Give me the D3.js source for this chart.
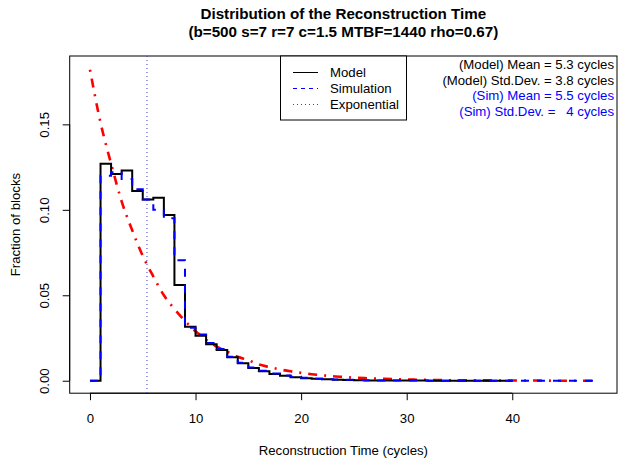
<!DOCTYPE html>
<html>
<head>
<meta charset="utf-8">
<script src="https://cdn.jsdelivr.net/npm/d3@7"></script>
<style>
  body { margin: 0; background: #fff; }
  svg text { font-family: "Liberation Sans", Arial, sans-serif; }
</style>
</head>
<body>
<div id="chart"></div>
<script>
// values
const modelX = d3.range(0, 41);
const modelY = [0, 0.127, 0.121, 0.123, 0.111, 0.106, 0.107, 0.097, 0.056, 0.0316,
  0.0263, 0.0213, 0.018, 0.0137, 0.0102, 0.0075, 0.0055, 0.0040, 0.0029, 0.0021,
  0.0015, 0.0011, 0.0008, 0.0006, 0.0004, 0.0003, 0.0002, 0.0002, 0.0001, 0.0001,
  0.0001, 0.0001, 0, 0, 0, 0, 0, 0, 0, 0, 0];

const simX = d3.range(0, 49);
const simY = [0, 0.120, 0.122, 0.118, 0.112, 0.106, 0.100, 0.095, 0.0705, 0.031,
  0.027, 0.022, 0.0185, 0.014, 0.0105, 0.0078, 0.0058, 0.0043, 0.0031, 0.0023,
  0.0017, 0.0012, 0.0009, 0.0007, 0.0005, 0.0004, 0.0003, 0.0002, 0.0001, 0.0001,
  0.0001, 0.0001, 0, 0, 0, 0, 0, 0, 0, 0, 0, 0, 0, 0, 0, 0, 0, 0, 0];

const expX = d3.range(0, 49);
const expY = [0.182, 0.151, 0.127, 0.105, 0.088, 0.073, 0.061, 0.050, 0.042, 0.035,
  0.029, 0.024, 0.020, 0.017, 0.014, 0.012, 0.0095, 0.0080, 0.0066, 0.0055,
  0.0046, 0.0038, 0.0032, 0.0026, 0.0022, 0.0018, 0.0015, 0.0013, 0.0011, 0.0009,
  0.0007, 0.0006, 0.0005, 0.0004, 0.0003, 0.0003, 0.0002, 0.0002, 0.0002, 0.0001,
  0.0001, 0.0001, 0.0001, 0.0001, 0, 0, 0, 0, 0];

const meanLine = 5.4;
const xTicks = [0, 10, 20, 30, 40];
const yTicks = [0, 0.05, 0.10, 0.15];
const legendLabels = ['Model', 'Simulation', 'Exponential'];
const statLines = [
  { text: '(Model) Mean = 5.3 cycles', color: '#000' },
  { text: '(Model) Std.Dev. = 3.8 cycles', color: '#000' },
  { text: '(Sim) Mean = 5.5 cycles', color: '#0000ff' },
  { text: '(Sim) Std.Dev. =   4 cycles', color: '#0000ff' }
];

const W = 619, H = 458;
const box = { left: 69.7, right: 617, top: 56, bottom: 393.2 };
const fs = 13.2;

const svg = d3.select('#chart').append('svg')
  .attr('width', W).attr('height', H);

const x = d3.scaleLinear().domain([-1.92, 49.92]).range([box.left, box.right]);
const y = d3.scaleLinear().domain([-0.0073, 0.19]).range([box.bottom, box.top]);

// title
const title = svg.append('text')
  .attr('text-anchor', 'middle')
  .attr('font-weight', 'bold')
  .attr('font-size', 15.2);
title.append('tspan').attr('x', (box.left + box.right) / 2).attr('y', 19)
  .text('Distribution of the Reconstruction Time');
title.append('tspan').attr('x', (box.left + box.right) / 2).attr('y', 37)
  .text('(b=500 s=7 r=7 c=1.5 MTBF=1440 rho=0.67)');

// axes
const xAxis = svg.append('g')
  .attr('transform', `translate(0,${box.bottom})`)
  .call(d3.axisBottom(x).tickValues(xTicks).tickSize(7).tickPadding(13.5).tickFormat(d3.format('d')));
xAxis.selectAll('text').attr('font-size', fs).attr('fill', '#000').style('font-family', 'Liberation Sans, Arial, sans-serif');
xAxis.select('.domain').attr('d', `M${x(0)},0H${x(40)}`);

const yAxis = svg.append('g')
  .attr('transform', `translate(${box.left},0)`)
  .call(d3.axisLeft(y).tickValues(yTicks).tickSize(7).tickFormat(d3.format('.2f')));
yAxis.select('.domain').attr('d', `M0,${y(0)}V${y(0.15)}`);
yAxis.selectAll('text')
  .attr('font-size', fs).attr('fill', '#000')
  .style('font-family', 'Liberation Sans, Arial, sans-serif')
  .attr('text-anchor', 'middle')
  .attr('x', null).attr('dy', null)
  .attr('transform', 'translate(-20.5,0) rotate(-90)')
  .attr('y', 0);

svg.append('text')
  .attr('x', (box.left + box.right) / 2).attr('y', 455)
  .attr('text-anchor', 'middle').attr('font-size', fs)
  .text('Reconstruction Time (cycles)');

svg.append('text')
  .attr('transform', `translate(20,${(box.top + box.bottom) / 2}) rotate(-90)`)
  .attr('text-anchor', 'middle').attr('font-size', fs)
  .text('Fraction of blocks');

// plot box
svg.append('rect')
  .attr('x', box.left).attr('y', box.top)
  .attr('width', box.right - box.left).attr('height', box.bottom - box.top)
  .attr('fill', 'none').attr('stroke', '#000').attr('stroke-width', 1);

// mean line
svg.append('line')
  .attr('x1', x(meanLine)).attr('x2', x(meanLine))
  .attr('y1', box.top).attr('y2', box.bottom)
  .attr('stroke', '#3c3cc8').attr('stroke-width', 1)
  .attr('stroke-dasharray', '1,3');

const step = d3.line().x(d => x(d[0])).y(d => y(d[1])).curve(d3.curveStepAfter);
const smooth = d3.line().x(d => x(d[0])).y(d => y(d[1])).curve(d3.curveMonotoneX);

svg.append('path')
  .datum(expX.map((v, i) => [v, expY[i]]))
  .attr('d', smooth)
  .attr('fill', 'none').attr('stroke', '#ff0000').attr('stroke-width', 2.6)
  .attr('stroke-dasharray', '2,7,9,7');

svg.append('path')
  .datum(modelX.map((v, i) => [v, modelY[i]]))
  .attr('d', step)
  .attr('fill', 'none').attr('stroke', '#000').attr('stroke-width', 2);

svg.append('path')
  .datum(simX.map((v, i) => [v, simY[i]]))
  .attr('d', step)
  .attr('fill', 'none').attr('stroke', '#0000ff').attr('stroke-width', 2)
  .attr('stroke-dasharray', '8,8');

// legend
const lg = svg.append('g');
lg.append('rect')
  .attr('x', 280.5).attr('y', box.top).attr('width', 126).attr('height', 64)
  .attr('fill', '#fff').attr('stroke', '#000').attr('stroke-width', 1);
const legendStyles = [
  { color: '#000', dash: null },
  { color: '#0000ff', dash: '4,4' },
  { color: '#ff0000', dash: '1,3' }
];
legendLabels.forEach((lab, i) => {
  const cy = Math.round(72 + i * 16.2) + 0.5;
  lg.append('line')
    .attr('x1', 293).attr('x2', 318).attr('y1', cy).attr('y2', cy)
    .attr('stroke', legendStyles[i].color).attr('stroke-width', 1)
    .attr('stroke-dasharray', legendStyles[i].dash);
  lg.append('text')
    .attr('x', 330).attr('y', cy + 4.5)
    .attr('font-size', fs).text(lab);
});

// stats text
statLines.forEach((s, i) => {
  svg.append('text')
    .attr('x', 614).attr('y', 69 + i * 15.6)
    .attr('text-anchor', 'end').attr('font-size', fs)
    .attr('fill', s.color)
    .style('white-space', 'pre')
    .text(s.text);
});
</script>
</body>
</html>
